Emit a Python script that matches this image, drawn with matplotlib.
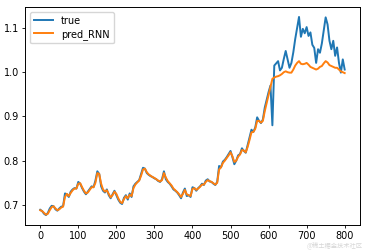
import numpy as np
import matplotlib
matplotlib.use('Agg')
import matplotlib.pyplot as plt

# sample index (every 5 steps)
steps = np.arange(0, 801, 5)

true_vals = [
    0.689, 0.686, 0.680, 0.677, 0.682, 0.692, 0.698, 0.697, 0.690, 0.687,
    0.692, 0.696, 0.697, 0.726, 0.724, 0.718, 0.730, 0.735, 0.738, 0.737,
    0.752, 0.748, 0.738, 0.730, 0.724, 0.730, 0.736, 0.742, 0.740, 0.755,
    0.776, 0.770, 0.742, 0.732, 0.728, 0.735, 0.722, 0.715, 0.724, 0.732,
    0.722, 0.712, 0.705, 0.702, 0.716, 0.722, 0.712, 0.726, 0.718, 0.742,
    0.748, 0.752, 0.756, 0.770, 0.784, 0.782, 0.772, 0.768, 0.765, 0.763,
    0.760, 0.758, 0.754, 0.752, 0.758, 0.776, 0.758, 0.752, 0.748, 0.742,
    0.735, 0.732, 0.728, 0.722, 0.715, 0.728, 0.737, 0.720, 0.722, 0.718,
    0.740, 0.738, 0.732, 0.738, 0.742, 0.748, 0.745, 0.755, 0.758, 0.753,
    0.752, 0.748, 0.745, 0.752, 0.788, 0.785, 0.798, 0.802, 0.808, 0.815,
    0.822, 0.808, 0.792, 0.800, 0.812, 0.815, 0.828, 0.822, 0.818, 0.835,
    0.852, 0.870, 0.865, 0.875, 0.898, 0.890, 0.885, 0.893, 0.920, 0.938,
    0.955, 0.970, 0.880, 1.015, 1.020, 1.025, 1.004, 1.010, 1.030, 1.048,
    1.029, 1.010, 1.021, 1.045, 1.075, 1.100, 1.125, 1.080, 1.098, 1.088,
    1.102, 1.082, 1.090, 1.062, 1.055, 1.021, 1.052, 1.044, 1.065, 1.095,
    1.124, 1.108, 1.071, 1.052, 1.071, 1.037, 1.056, 1.021, 0.999, 1.029,
    1.006,
]

pred_rnn = [
    0.688, 0.686, 0.682, 0.678, 0.680, 0.688, 0.695, 0.697, 0.692, 0.688,
    0.690, 0.694, 0.696, 0.718, 0.725, 0.720, 0.727, 0.733, 0.737, 0.737,
    0.748, 0.749, 0.740, 0.732, 0.726, 0.728, 0.734, 0.740, 0.740, 0.750,
    0.772, 0.770, 0.748, 0.735, 0.730, 0.733, 0.725, 0.717, 0.722, 0.730,
    0.725, 0.715, 0.707, 0.704, 0.713, 0.720, 0.715, 0.723, 0.720, 0.738,
    0.746, 0.751, 0.755, 0.766, 0.780, 0.782, 0.774, 0.769, 0.766, 0.763,
    0.761, 0.758, 0.755, 0.753, 0.756, 0.772, 0.762, 0.754, 0.749, 0.744,
    0.737, 0.733, 0.729, 0.724, 0.718, 0.725, 0.734, 0.724, 0.722, 0.720,
    0.736, 0.738, 0.734, 0.737, 0.741, 0.746, 0.746, 0.752, 0.756, 0.754,
    0.752, 0.749, 0.746, 0.750, 0.780, 0.785, 0.795, 0.800, 0.806, 0.812,
    0.819, 0.810, 0.797, 0.800, 0.809, 0.814, 0.824, 0.823, 0.819, 0.831,
    0.847, 0.864, 0.865, 0.872, 0.890, 0.890, 0.886, 0.890, 0.912, 0.930,
    0.948, 0.965, 0.985, 0.988, 0.990, 0.991, 0.993, 0.996, 1.000, 1.002,
    1.000, 0.999, 0.999, 1.006, 1.015, 1.021, 1.025, 1.019, 1.018, 1.019,
    1.021, 1.017, 1.012, 1.010, 1.008, 1.006, 1.008, 1.012, 1.014, 1.020,
    1.025, 1.022, 1.016, 1.014, 1.012, 1.010, 1.010, 1.006, 1.002, 1.000,
    0.998,
]

fig = plt.figure(figsize=(3.68, 2.5), dpi=100)
ax = fig.add_axes([0.068, 0.1, 0.91, 0.872])

ax.plot(steps, true_vals, color='#1f77b4', lw=1.4, label='true')
ax.plot(steps, pred_rnn, color='#ff7f0e', lw=1.4, label='pred_RNN')

ax.set_xticks([0, 100, 200, 300, 400, 500, 600, 700, 800])
ax.set_yticks([0.7, 0.8, 0.9, 1.0, 1.1])
ax.tick_params(labelsize=7, length=2.5, width=0.6, pad=2)
for s in ax.spines.values():
    s.set_linewidth(0.7)
ax.legend(loc='upper left', fontsize=7, handlelength=2, borderpad=0.4, labelspacing=0.3)

# faint watermark, kept below the tick labels
fig.text(0.985, 0.0, '@稀土掘金技术社区', ha='right', va='bottom', fontsize=4.5,
         color='#bbbbbb', alpha=0.6, family=['Noto Sans CJK SC', 'DejaVu Sans'])

fig.savefig('out.png', dpi=100)
